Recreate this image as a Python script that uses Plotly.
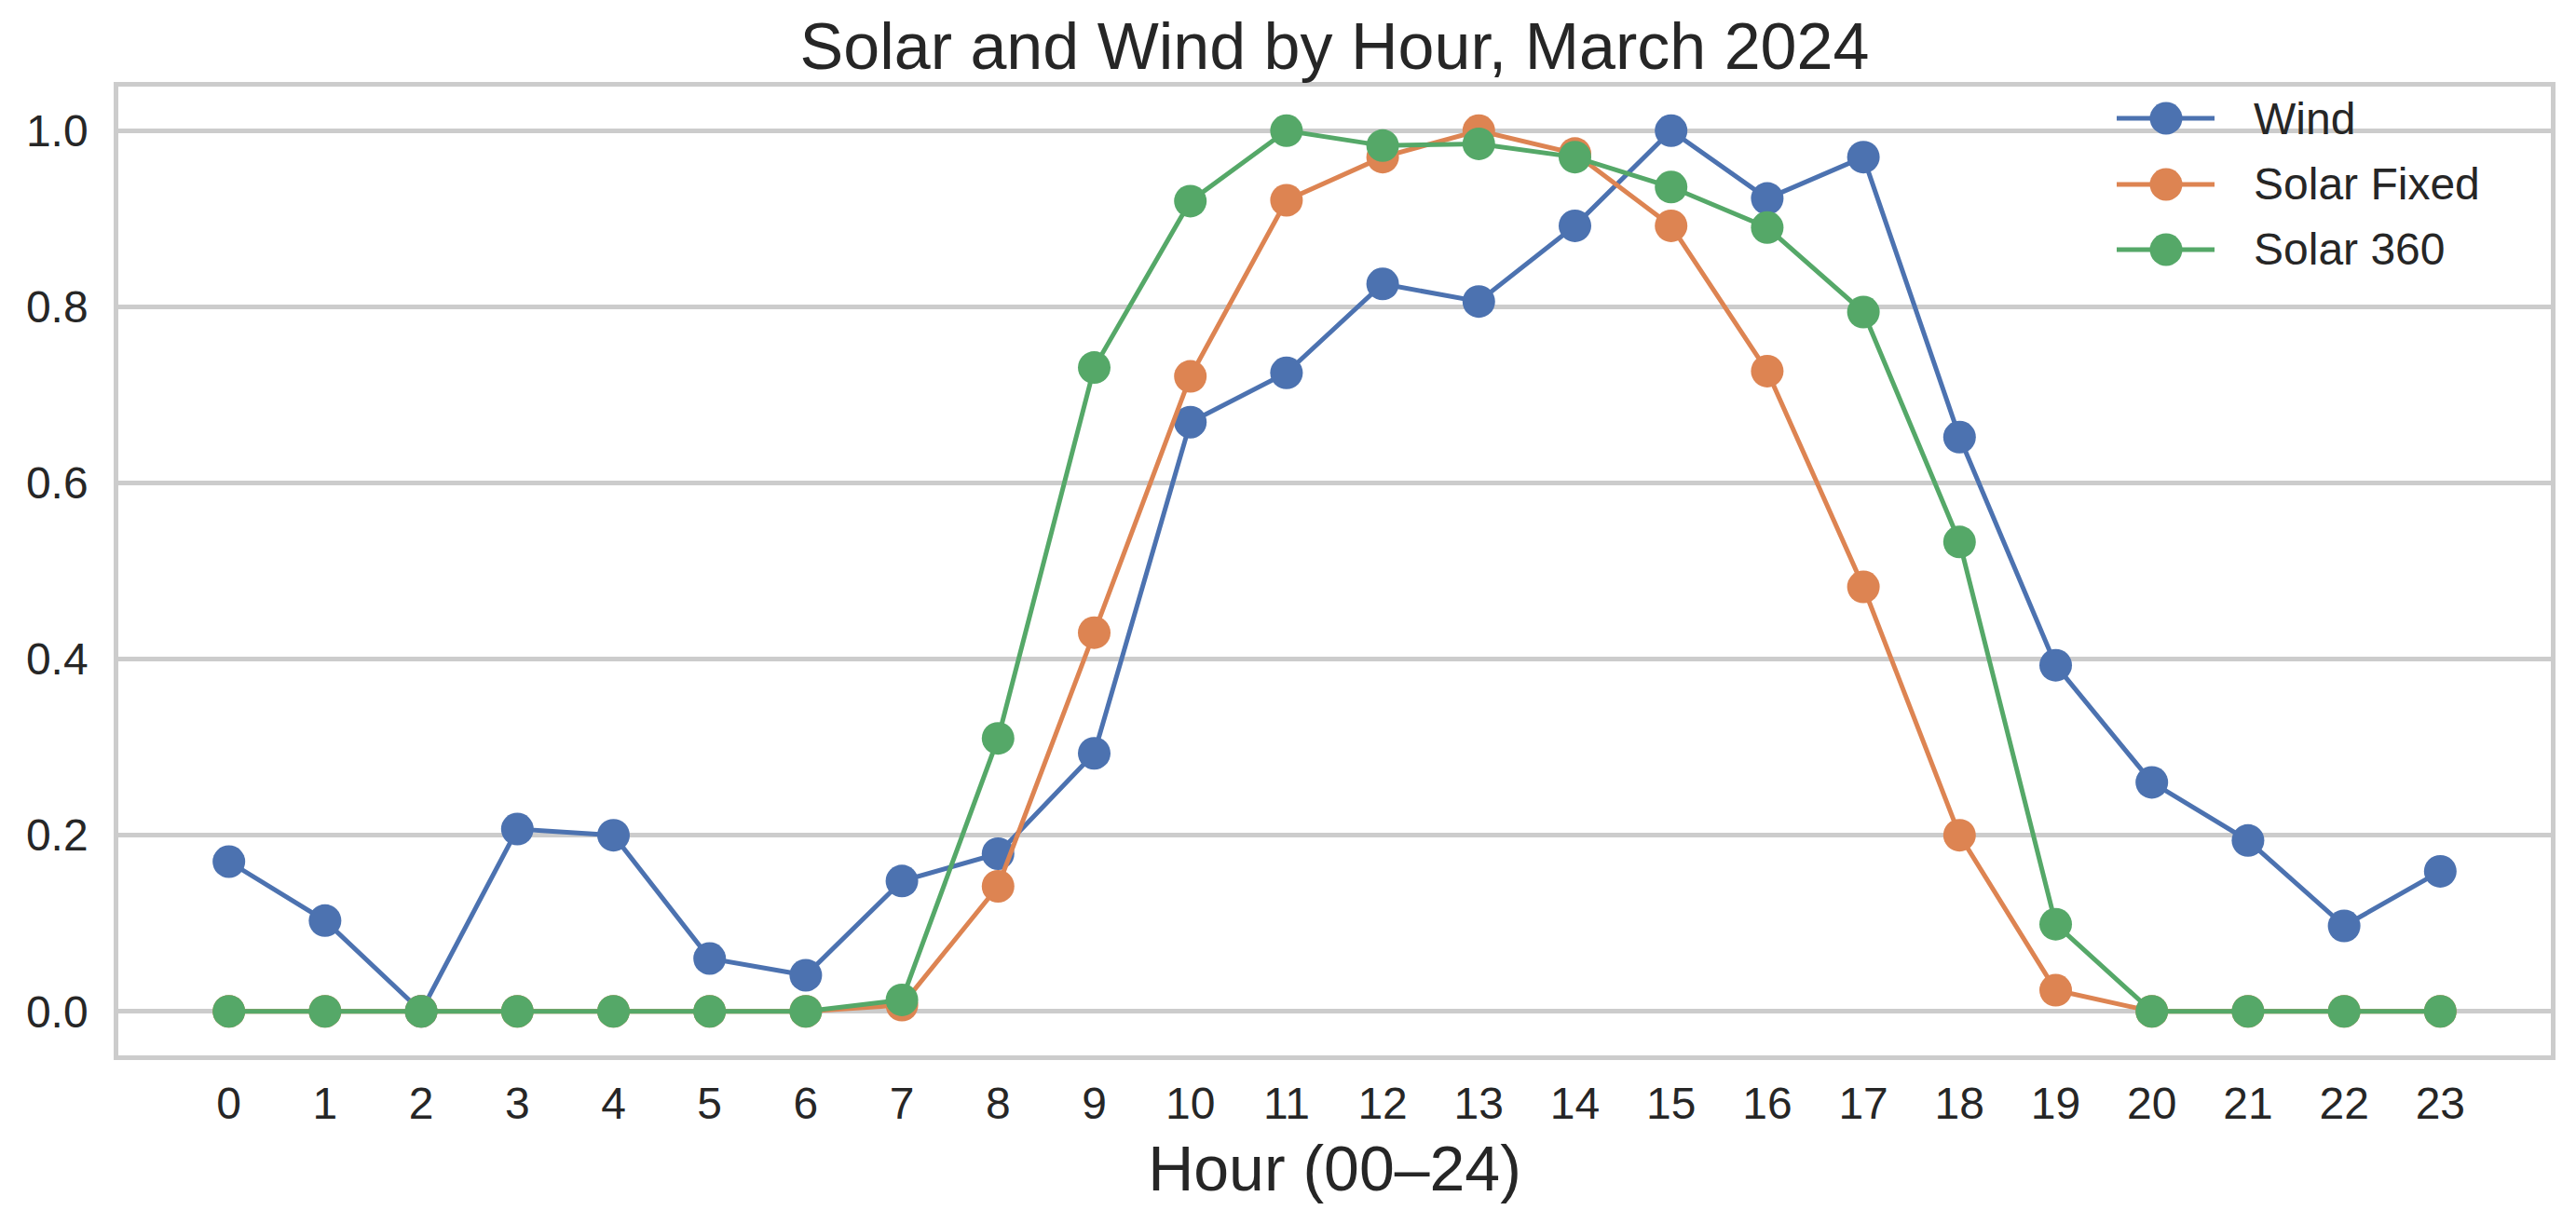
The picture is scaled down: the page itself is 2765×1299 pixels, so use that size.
import plotly.graph_objects as go

hours = list(range(24))
wind = [0.170, 0.103, 0.0, 0.207, 0.200, 0.060, 0.041, 0.148, 0.179, 0.293,
        0.669, 0.725, 0.826, 0.806, 0.892, 1.0, 0.923, 0.970, 0.652, 0.393,
        0.260, 0.194, 0.097, 0.159]
solar_fixed = [0, 0, 0, 0, 0, 0, 0, 0.007, 0.142, 0.430,
               0.721, 0.921, 0.970, 1.0, 0.974, 0.892, 0.727, 0.482, 0.200, 0.024,
               0, 0, 0, 0]
solar_360 = [0, 0, 0, 0, 0, 0, 0, 0.013, 0.310, 0.731,
             0.920, 1.0, 0.983, 0.985, 0.970, 0.936, 0.890, 0.794, 0.533, 0.099,
             0, 0, 0, 0]
series_names = ["Wind", "Solar Fixed", "Solar 360"]
series_values = [wind, solar_fixed, solar_360]
colors = ["#4C72B0", "#DD8452", "#55A868"]
y_ticks = [0.0, 0.2, 0.4, 0.6, 0.8, 1.0]

FONT = "Liberation Sans, Arial, sans-serif"
TXT = "#262626"
GRID = "#cccccc"

W, H = 2765, 1299
ML, MR, MT, MB = 127, 27, 93, 166
PW, PH = W - ML - MR, H - MT - MB

fig = go.Figure()
for name, vals, col in zip(series_names, series_values, colors):
    fig.add_trace(go.Scatter(
        x=hours, y=vals, name=name, mode="lines+markers",
        line=dict(color=col, width=5),
        marker=dict(color=col, size=35, line=dict(width=0)),
        showlegend=False,
    ))

# legend (drawn to match reference marker size)
def px_x(p):
    return (p - ML) / PW

def px_y(p):
    return (H - MB - p) / PH

legend_rows = [127, 198, 268]
shapes = []
annotations = []
for name, col, ry in zip(series_names, colors, legend_rows):
    yy = px_y(ry)
    shapes.append(dict(type="line", xref="paper", yref="paper",
                       x0=px_x(2272), x1=px_x(2377), y0=yy, y1=yy,
                       line=dict(color=col, width=5)))
    shapes.append(dict(type="circle", xref="paper", yref="paper",
                       xsizemode="pixel", ysizemode="pixel",
                       xanchor=px_x(2325), yanchor=yy,
                       x0=-17.5, x1=17.5, y0=-17.5, y1=17.5,
                       fillcolor=col, line=dict(width=0)))
    annotations.append(dict(xref="paper", yref="paper", x=px_x(2417), y=yy,
                            xanchor="left", yanchor="middle", showarrow=False,
                            text=name, font=dict(family=FONT, size=48, color=TXT)))

fig.update_layout(
    width=W, height=H,
    margin=dict(l=ML, r=MR, t=MT, b=MB, pad=0),
    paper_bgcolor="white", plot_bgcolor="white",
    font=dict(family=FONT, color=TXT, size=48),
    title=dict(text="Solar and Wind by Hour, March 2024",
               x=0.5, xref="paper", xanchor="center",
               y=1 - 74 / H, yref="container", yanchor="bottom",
               font=dict(family=FONT, size=70, color=TXT)),
    shapes=shapes, annotations=annotations,
    showlegend=False,
)
fig.update_xaxes(
    range=[-1.15, 24.15], tickmode="array", tickvals=hours,
    ticktext=[str(h) for h in hours],
    showgrid=False, zeroline=False,
    showline=True, linecolor=GRID, linewidth=4.5, mirror=True,
    ticks="", ticklabelstandoff=6,
    tickfont=dict(family=FONT, size=48, color=TXT),
    title=dict(text="Hour (00–24)", standoff=22,
               font=dict(family=FONT, size=68, color=TXT)),
)
fig.update_yaxes(
    range=[-0.05, 1.05], tickmode="array", tickvals=y_ticks,
    ticktext=[f"{v:.1f}" for v in y_ticks],
    showgrid=True, gridcolor=GRID, gridwidth=4.5, zeroline=False,
    showline=True, linecolor=GRID, linewidth=4.5, mirror=True,
    ticks="", ticklabelstandoff=18,
    tickfont=dict(family=FONT, size=48, color=TXT),
)

fig.write_html("out.html", config={"displayModeBar": False},
               post_script="document.body.style.margin='0';")
